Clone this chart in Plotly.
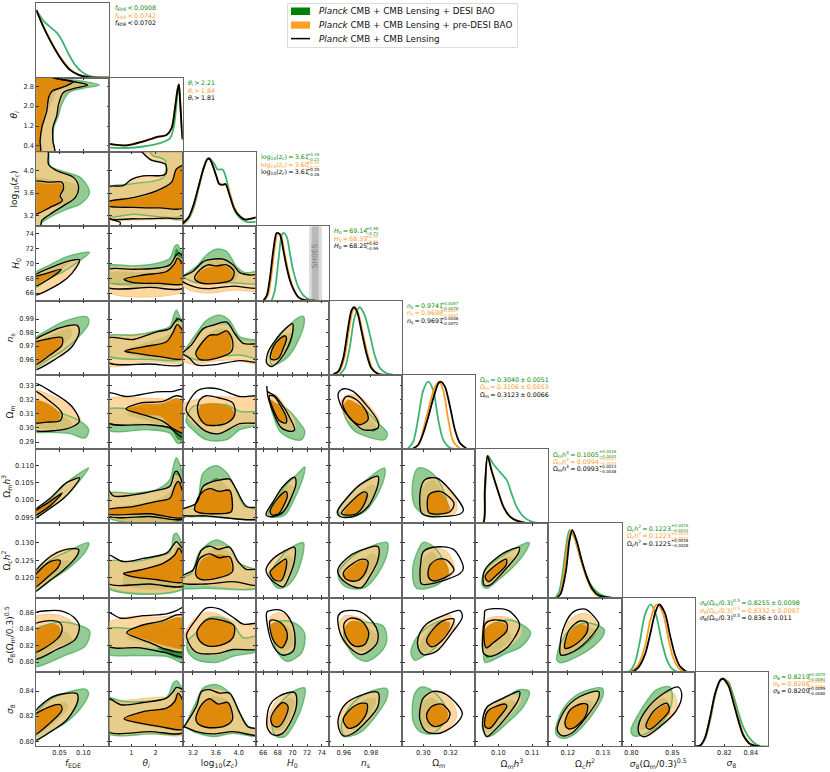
import plotly.graph_objects as go

W, H = 830, 772
names = ["fede", "theta", "logz", "h0", "ns", "om", "omh3", "och2", "s8", "sig8"]
x_titles = ["<i>f</i><sub>EDE</sub>", "<i>θ<sub>i</sub></i>", "log<sub>10</sub>(<i>z<sub>c</sub></i>)", "<i>H</i><sub>0</sub>", "<i>n</i><sub>s</sub>",
            "Ω<sub>m</sub>", "Ω<sub>m</sub><i>h</i><sup>3</sup>", "Ω<sub>c</sub><i>h</i><sup>2</sup>", "<i>σ</i><sub>8</sub>(Ω<sub>m</sub>/0.3)<sup>0.5</sup>", "<i>σ</i><sub>8</sub>"]
x_ranges = [[.001, .155], [.1, 3.115], [3.02, 4.3], [65, 75], [.949, 1.003], [.2846, .338], [.0932, .1148], [.1145, .1354], [.7883, .8773], [.7975, .8531]]
y_ranges = [[0, 1.1], [.16, 3.147], [3.02, 4.32], [65, 75], [.9488, 1.0037], [.285, .3378], [.0932, .1148], [.1143, .1355], [.788, .8775], [.796, .8552]]
density_range = [0, 1.1]
x_ticks = [[.05, .10], [1, 2], [3.2, 3.6, 4.0], [66, 68, 70, 72, 74], [.96, .98], [.30, .32], [.10, .11], [.12, .13], [.80, .85], [.82, .84]]
y_ticks = [[], [.4, 1.2, 2.0, 2.8], [3.2, 3.6, 4.0], [66, 68, 70, 72, 74], [.96, .97, .98, .99], [.29, .30, .31, .32, .33], [.095, .100, .105, .110], [.120, .125, .130], [.80, .82, .84, .86], [.80, .82, .84]]
x_ticktext = [["0.05", "0.10"], ["1", "2"], ["3.2", "3.6", "4.0"], ["66", "68", "70", "72", "74"], ["0.96", "0.98"], ["0.30", "0.32"], ["0.10", "0.11"], ["0.12", "0.13"], ["0.80", "0.85"], ["0.82", "0.84"]]
y_ticktext = [[], ["0.4", "1.2", "2.0", "2.8"], ["3.2", "3.6", "4.0"], ["66", "68", "70", "72", "74"], ["0.96", "0.97", "0.98", "0.99"], ["0.29", "0.30", "0.31", "0.32", "0.33"], ["0.095", "0.100", "0.105", "0.110"], ["0.120", "0.125", "0.130"], ["0.80", "0.82", "0.84", "0.86"], ["0.80", "0.82", "0.84"]]

# ---- 1D marginals (value, density)
fede_g = [(.001,1.0),(.016,.84),(.03,.75),(.044,.665),(.055,.55),(.069,.35),(.083,.185),(.097,.085),(.111,.03),(.129,.005),(.155,0)]
fede_o = [(.001,1.0),(.016,.76),(.03,.56),(.044,.385),(.058,.24),(.0725,.12),(.09,.045),(.108,.012),(.13,0),(.155,0)]
fede_k = [(.001,1.0),(.016,.75),(.03,.55),(.044,.375),(.058,.225),(.0725,.11),(.09,.04),(.108,.01),(.129,0),(.155,0)]
theta_g = [(.11,.063),(.81,.058),(1.49,.08),(2.18,.13),(2.59,.2),(2.75,.37),(2.86,.71),(2.95,1.0),(3.01,.76),(3.09,.28),(3.115,.2)]
theta_o = [(.11,.11),(.81,.095),(1.49,.15),(2.04,.215),(2.45,.25),(2.66,.36),(2.79,.63),(2.9,.92),(2.96,1.0),(3.01,.76),(3.09,.28),(3.115,.2)]
theta_k = [(.11,.12),(.81,.097),(1.49,.155),(2.04,.22),(2.45,.25),(2.66,.35),(2.79,.62),(2.9,.91),(2.96,1.0),(3.01,.76),(3.09,.28),(3.115,.18)]
logz_g = [(3.02,.02),(3.13,.115),(3.21,.265),(3.3,.565),(3.38,.84),(3.45,.99),(3.49,1.0),(3.58,.915),(3.63,.84),(3.72,.84),(3.77,.74),(3.86,.44),(3.94,.215),(4.03,.115),(4.14,.065),(4.3,.065)]
logz_o = [(3.02,.03),(3.13,.13),(3.21,.3),(3.3,.58),(3.38,.84),(3.45,.99),(3.49,1.0),(3.55,.89),(3.61,.74),(3.67,.625),(3.73,.61),(3.78,.62),(3.84,.49),(3.93,.265),(4.0,.17),(4.11,.1),(4.3,.13)]
logz_k = [(3.02,.04),(3.13,.14),(3.21,.315),(3.3,.59),(3.38,.84),(3.45,.99),(3.49,1.0),(3.55,.89),(3.61,.74),(3.66,.625),(3.73,.615),(3.77,.625),(3.83,.49),(3.92,.265),(4.0,.165),(4.11,.1),(4.3,.13)]
h0_g = [(67.17,0),(67.6,.15),(68.1,.6),(68.5,.95),(68.75,1.0),(69.2,.95),(69.66,.7),(70.1,.45),(70.8,.2),(71.5,.075),(72.4,.01),(73.3,0)]
h0_o = [(66.2,0),(66.65,.075),(67.1,.35),(67.55,.75),(68.0,1.0),(68.45,.96),(68.9,.72),(69.35,.47),(69.8,.28),(70.25,.15),(70.9,.04),(71.8,.004),(73.5,0)]
h0_k = [(66.04,0),(66.5,.075),(66.95,.35),(67.4,.75),(67.85,1.0),(68.3,.975),(68.75,.75),(69.2,.5),(69.66,.3),(70.1,.175),(70.8,.05),(71.7,.005),(73,0)]
ns_g = [(.957,.01),(.9607,.1),(.9644,.415),(.968,.86),(.9717,1.0),(.9754,.88),(.979,.61),(.9827,.295),(.9863,.11),(.9912,.025),(.997,0)]
ns_o = [(.9532,.01),(.9569,.06),(.9605,.26),(.9642,.72),(.9666,.955),(.9683,1.0),(.9708,.9),(.9739,.62),(.9776,.3),(.9812,.09),(.986,.012),(.992,0)]
ns_k = [(.9522,.01),(.9559,.05),(.9595,.245),(.9632,.71),(.9656,.955),(.9673,1.0),(.9698,.93),(.9729,.66),(.9766,.32),(.9802,.1),(.985,.015),(.991,0)]
om_g = [(.289,.01),(.2927,.11),(.2963,.455),(.30,.87),(.3037,1.0),(.3073,.87),(.311,.43),(.3146,.137),(.3195,.02),(.325,0)]
om_o = [(.2939,.01),(.2976,.11),(.3012,.38),(.3049,.68),(.3085,.92),(.3117,1.0),(.3146,.87),(.3183,.43),(.322,.11),(.3268,.005)]
om_k = [(.2927,.01),(.2963,.06),(.30,.235),(.3037,.48),(.3073,.75),(.311,.97),(.3127,1.0),(.3159,.92),(.3195,.63),(.3232,.28),(.3268,.09),(.3317,.005)]
omh3_g = [(.0932,0),(.0955,0),(.0961,.49),(.0969,1.0),(.0985,.88),(.1005,.76),(.1025,.64),(.1039,.44),(.1054,.245),(.1074,.1),(.1098,.025),(.1132,0)]
omh3_o = [(.0932,0),(.0955,0),(.096,.49),(.0968,1.0),(.0981,.78),(.0996,.53),(.1016,.24),(.1036,.1),(.1056,.04),(.1085,.005),(.1148,0)]
omh3_k = [(.0932,0),(.0955,0),(.096,.49),(.0968,1.0),(.098,.78),(.0995,.54),(.1015,.245),(.1034,.1),(.1054,.04),(.1083,.005),(.1115,0)]
och2_g = [(.1165,0),(.1175,.08),(.1185,.35),(.1195,.75),(.1205,1.0),(.1218,.9),(.1235,.6),(.125,.37),(.1265,.2),(.128,.1),(.13,.03),(.133,0)]
och2_o = [(.1168,0),(.1178,.06),(.119,.4),(.12,.8),(.121,1.0),(.1222,.85),(.1238,.55),(.1253,.3),(.1268,.13),(.1285,.03),(.132,0)]
och2_k = [(.117,0),(.118,.06),(.1195,.4),(.1205,.85),(.1213,1.0),(.1225,.85),(.124,.55),(.1255,.3),(.127,.13),(.129,.03),(.132,0)]
s8_g = [(.7883,0),(.798,.015),(.8045,.14),(.8105,.455),(.8167,.85),(.8236,1.0),(.83,.85),(.837,.455),(.843,.19),(.849,.055),(.857,0)]
s8_o = [(.79,0),(.80,.01),(.8085,.11),(.8167,.38),(.8228,.75),(.8289,.975),(.832,1.0),(.839,.85),(.845,.5),(.851,.21),(.859,.04),(.867,0)]
s8_k = [(.79,0),(.80,0),(.8085,.065),(.8167,.26),(.8228,.55),(.8289,.87),(.834,1.0),(.841,.87),(.847,.55),(.853,.26),(.859,.09),(.867,.005)]
sig8_g = [(.7975,0),(.8015,.01),(.8053,.11),(.8091,.38),(.8129,.75),(.8167,.975),(.8187,1.0),(.823,.95),(.8268,.75),(.8306,.5),(.8344,.28),(.8395,.11),(.846,.01),(.8531,0)]
sig8_o = [(.7975,0),(.8015,.01),(.8053,.13),(.8091,.42),(.8129,.77),(.817,.975),(.8192,1.0),(.8235,.9),(.8273,.65),(.8311,.38),(.8349,.16),(.84,.035),(.8475,0)]
sig8_k = [(.7975,0),(.8015,.01),(.8053,.13),(.8091,.43),(.8129,.78),(.8167,.975),(.8187,1.0),(.823,.9),(.8268,.65),(.8306,.38),(.8344,.16),(.8395,.035),(.847,0)]

# ---- 2D contours: <x>_<y>_<set><level>; g/o/k = green/orange/black; o=outer, i=inner
fede_theta_go = [(-.01,3.2),(.06,3.08),(.1,3.0),(.134,2.85),(.1,2.72),(.07,2.55),(.055,2.1),(.047,1.6),(.038,1.15),(.036,.6),(.039,.1),(-.01,.1)]
fede_theta_gi = [(-.01,3.2),(.05,3.08),(.09,2.95),(.106,2.85),(.08,2.76),(.045,2.6),(.035,2.2),(.024,1.7),(.015,1.1),(.012,.6),(.012,.1),(-.01,.1)]
fede_theta_oo = [(-.01,3.2),(.052,3.08),(.085,2.97),(.104,2.85),(.085,2.72),(.06,2.55),(.05,2.08),(.045,1.61),(.037,1.15),(.036,.61),(.039,.1),(-.01,.1)]
fede_theta_oi = [(-.01,3.2),(.051,3.08),(.078,2.97),(.058,2.77),(.034,2.6),(.027,2.35),(.02,1.81),(.012,1.15),(.008,.61),(.008,.1),(-.01,.1)]
fede_theta_ko = [(-.01,3.2),(.051,3.08),(.083,2.97),(.109,2.85),(.083,2.72),(.058,2.55),(.048,2.08),(.044,1.61),(.036,1.15),(.036,.61),(.039,.1),(-.01,.1)]
fede_theta_ki = [(-.01,3.2),(.051,3.08),(.078,2.97),(.058,2.77),(.034,2.6),(.027,2.35),(.023,1.81),(.0127,1.15),(.009,.61),(.009,.1),(-.01,.1)]

fede_logz_go = [(-.01,4.35),(.025,4.35),(.03,4.08),(.0655,3.96),(.094,3.87),(.113,3.61),(.094,3.41),(.0655,3.32),(.03,3.18),(.012,3.08),(.007,3.0),(-.01,3.0)]
fede_logz_gi = [(-.01,3.85),(.04,3.82),(.085,3.75),(.088,3.6),(.07,3.45),(.03,3.32),(-.01,3.2)]
fede_logz_oo = [(-.01,4.35),(.024,4.35),(.027,4.1),(.046,3.99),(.082,3.87),(.09,3.7),(.082,3.52),(.058,3.38),(.03,3.23),(.0127,3.12),(.009,3.0),(-.01,3.0)]
fede_logz_oi = [(-.01,3.76),(.03,3.76),(.052,3.76),(.056,3.67),(.049,3.55),(.053,3.47),(.03,3.36),(-.01,3.24)]
fede_logz_ko = [(-.01,4.35),(.0246,4.35),(.0268,4.1),(.0444,3.99),(.08,3.87),(.09,3.7),(.083,3.52),(.0585,3.38),(.03,3.23),(.0127,3.12),(.009,3.0),(-.01,3.0)]
fede_logz_ki = [(-.01,3.79),(.03,3.79),(.055,3.79),(.058,3.67),(.051,3.55),(.056,3.47),(.03,3.35),(-.01,3.22)]

fede_h0_go = [(-.01,68.3),(.03,69.8),(.0655,70.9),(.113,71.47),(.09,70.25),(.058,68.9),(.03,68.0),(-.01,66.5)]
fede_h0_gi = [(-.01,67.9),(.03,69.1),(.0725,70.25),(.044,68.66),(.02,67.6),(-.01,66.8)]
fede_h0_oo = [(-.01,68.1),(.037,69.5),(.0655,70.2),(.092,70.4),(.076,68.7),(.051,67.4),(-.01,65.7)]
fede_h0_oi = [(-.01,67.8),(.023,68.6),(.052,69.1),(.03,68.2),(-.01,66.9)]
fede_h0_ko = [(-.01,68.0),(.037,69.57),(.0655,70.24),(.092,70.47),(.076,68.66),(.051,67.3),(-.01,65.7)]
fede_h0_ki = [(-.01,67.9),(.023,68.66),(.0535,69.2),(.03,68.0),(-.01,66.8)]

fede_ns_go = [(-.01,.973),(.03,.9829),(.0655,.989),(.108,.9915),(.111,.9866),(.09,.9768),(.058,.967),(.03,.961),(-.01,.953)]
fede_ns_gi = [(-.01,.97),(.03,.978),(.0725,.983),(.076,.978),(.05,.9695),(-.01,.956)]
fede_ns_oo = [(-.01,.972),(.03,.98),(.0655,.985),(.0866,.9854),(.0915,.9805),(.076,.9695),(.044,.961),(-.01,.952)]
fede_ns_oi = [(-.01,.971),(.03,.9752),(.053,.976),(.053,.9707),(.03,.9634),(-.01,.955)]
fede_ns_ko = [(-.01,.972),(.03,.9805),(.0655,.9849),(.0866,.9854),(.0915,.9805),(.076,.9695),(.044,.961),(-.01,.952)]
fede_ns_ki = [(-.01,.971),(.03,.9756),(.055,.9763),(.055,.9707),(.03,.9634),(-.01,.955)]

fede_om_go = [(-.01,.319),(.044,.3118),(.094,.3047),(.111,.2988),(.104,.2929),(.0725,.296),(.03,.2969),(-.01,.298)]
fede_om_gi = [(-.01,.317),(.044,.3106),(.076,.3035),(.0655,.2993),(.03,.2988),(-.01,.3023)]
fede_om_oo = [(-.01,.3265),(.0373,.3224),(.0725,.3153),(.0937,.3059),(.0796,.3007),(.044,.2988),(-.01,.3007)]
fede_om_oi = [(-.01,.32),(.03,.3165),(.0515,.3094),(.048,.3059),(-.01,.3047)]
fede_om_ko = [(-.01,.332),(.0373,.3248),(.076,.3153),(.0915,.3047),(.076,.3007),(.044,.2983),(-.01,.2995)]
fede_om_ki = [(-.01,.327),(.03,.3189),(.055,.3106),(.0515,.3054),(.023,.3042),(-.01,.3042)]

fede_omh3_go = [(-.01,.0955),(.03,.1),(.0655,.1051),(.111,.1093),(.0937,.1059),(.0585,.1005),(.03,.0976),(-.01,.0942)]
fede_omh3_gi = [(-.01,.0957),(.03,.0998),(.07,.1035),(.05,.1008),(.03,.0985),(-.01,.095)]
fede_omh3_oo = [(-.01,.096),(.03,.1005),(.0655,.1051),(.092,.1064),(.076,.103),(.0585,.1005),(.03,.0976),(-.01,.0942)]
fede_omh3_oi = [(-.01,.0958),(.03,.0996),(.055,.102),(.03,.0983),(-.01,.095)]
fede_omh3_ko = [(-.01,.096),(.03,.1005),(.0585,.1044),(.0655,.1051),(.092,.1064),(.076,.103),(.0585,.1005),(.03,.0976),(-.01,.0942)]
fede_omh3_ki = [(-.01,.0958),(.03,.0996),(.055,.102),(.03,.0983),(-.01,.095)]

fede_och2_go = [(-.01,.1195),(.03,.125),(.0655,.1274),(.111,.13),(.104,.1274),(.0725,.1231),(.0373,.1198),(-.01,.1155)]
fede_och2_gi = [(-.01,.1185),(.03,.1235),(.06,.125),(.075,.1245),(.05,.1215),(-.01,.117)]
fede_och2_oo = [(-.01,.12),(.03,.1263),(.065,.1283),(.087,.1282),(.08,.1255),(.055,.1222),(.03,.1195),(-.01,.116)]
fede_och2_oi = [(-.01,.1195),(.03,.1246),(.05,.1247),(.047,.1231),(.03,.1208),(-.01,.117)]
fede_och2_ko = [(-.01,.12),(.03,.126),(.0585,.1279),(.09,.1281),(.0875,.1265),(.0585,.1222),(.03,.1193),(-.01,.1155)]
fede_och2_ki = [(-.01,.119),(.03,.1246),(.051,.1249),(.0475,.1231),(.03,.1208),(-.01,.1165)]

fede_s8_go = [(-.01,.835),(.044,.8478),(.083,.8457),(.113,.8376),(.104,.8192),(.0655,.809),(-.01,.795)]
fede_s8_gi = [(-.01,.828),(.03,.8396),(.0655,.8355),(.076,.8253),(.044,.8184),(-.01,.802)]
fede_s8_oo = [(-.01,.852),(.044,.8567),(.0745,.8498),(.0915,.8396),(.0796,.8253),(.044,.8151),(-.01,.8032)]
fede_s8_oi = [(-.01,.835),(.03,.8457),(.048,.8437),(.0515,.8355),(.041,.8253),(-.01,.811)]
fede_s8_ko = [(-.01,.857),(.03,.862),(.0585,.8608),(.08,.8539),(.0915,.8437),(.083,.8273),(.044,.8151),(-.01,.8032)]
fede_s8_ki = [(-.01,.843),(.03,.8498),(.0515,.8469),(.055,.8376),(.044,.8273),(-.01,.811)]

fede_sig8_go = [(-.01,.816),(.03,.8331),(.0655,.8389),(.104,.8416),(.111,.8384),(.097,.8277),(.0655,.8157),(.03,.8077),(-.01,.799)]
fede_sig8_gi = [(-.01,.814),(.03,.8264),(.0585,.8317),(.069,.8277),(.043,.8157),(-.01,.803)]
fede_sig8_oo = [(-.01,.819),(.03,.8344),(.0585,.8381),(.085,.8379),(.086,.8317),(.0655,.8171),(.0373,.8091),(-.01,.8)]
fede_sig8_oi = [(-.01,.818),(.03,.8277),(.05,.8291),(.053,.8251),(.0373,.8171),(-.01,.804)]
fede_sig8_ko = [(-.01,.819),(.03,.8344),(.0585,.8379),(.0866,.8379),(.088,.8317),(.0655,.8171),(.0373,.8091),(-.01,.8)]
fede_sig8_ki = [(-.01,.818),(.03,.8277),(.0515,.8291),(.055,.8251),(.0373,.8171),(-.01,.804)]

theta_logz_go = [(0,3.68),(1.01,3.76),(2.31,3.87),(2.41,4.16),(2.18,4.22),(1.9,4.25),(1.7,4.4),(3.2,4.4),(3.2,3.23),(1.08,3.23),(0,3.2)]
theta_logz_gi = [(.8,3.35),(.8,3.47),(1.08,3.5),(2.04,3.62),(2.66,3.75),(2.86,3.95),(3.2,4.05),(3.2,3.32),(2.18,3.34),(1.08,3.35)]
theta_logz_oo = [(0,3.7),(.67,3.72),(1.01,3.82),(1.49,3.9),(2.31,3.92),(2.41,4.12),(1.77,4.2),(1.4,4.4),(3.2,4.4),(3.2,3.15),(2.45,3.14),(1.08,3.13),(0,3.15)]
theta_logz_oi = [(0,3.46),(1.08,3.5),(2.04,3.62),(2.66,3.77),(2.86,4.0),(3.2,4.08),(3.2,3.36),(2.18,3.35),(1.08,3.36),(0,3.4)]
theta_logz_ko = [(0,3.7),(.67,3.73),(1.01,3.84),(1.49,3.9),(2.41,3.93),(2.41,4.1),(1.77,4.19),(1.36,4.4),(3.2,4.4),(3.2,3.18),(2.45,3.16),(1.08,3.15),(0,3.17)]
theta_logz_ki = [(0,3.44),(1.08,3.52),(2.04,3.64),(2.66,3.79),(2.86,4.02),(3.2,4.08),(3.2,3.35),(2.18,3.34),(1.08,3.35),(0,3.38)]
theta_logz_ko2 = [(0,3.15),(.32,3.12),(.55,3.08),(.45,3.0),(0,3.0)]

theta_h0_go = [(0,69.66),(1.08,69.66),(2.04,70.0),(2.59,70.7),(2.79,72.3),(2.9,72.5),(3.0,72),(3.2,70.5),(3.2,67.4),(1.77,67.4),(0,67.5)]
theta_h0_gi = [(0,68.66),(2.04,68.9),(2.66,70),(2.86,72),(3,71.4),(3.2,70.3),(3.2,67.5),(0,67.45)]
theta_h0_oo = [(0,69.1),(2.04,69.34),(2.59,69.8),(2.86,70.9),(3.0,70.7),(3.2,70),(3.2,66.4),(0,66.2)]
theta_h0_oi = [(.72,67.85),(1.49,68.43),(2.45,68.9),(2.79,70),(2.9,70.6),(3.2,69.4),(3.2,67.3),(2.18,67.3),(1.08,67.4)]
theta_h0_ko = [(0,69.1),(1.08,69.2),(2.04,69.34),(2.59,69.8),(2.86,71.15),(2.97,71.4),(3.2,70.4),(3.2,66.76),(1.77,66.76),(0,66.85)]
theta_h0_ki = [(.7,67.85),(1.49,68.43),(2.45,68.9),(2.79,70),(2.9,70.7),(3.2,69.4),(3.2,67.3),(2.18,67.3),(1.08,67.4)]

theta_ns_go = [(0,.9773),(1.08,.978),(2.04,.9812),(2.59,.9844),(2.75,.9929),(2.86,.9966),(3.0,.9917),(3.2,.985),(3.2,.961),(1.77,.9602),(0,.9634)]
theta_ns_gi = [(.7,.9664),(2.04,.975),(2.66,.9805),(2.86,.9915),(3.0,.987),(3.2,.98),(3.2,.961),(1.08,.963)]
theta_ns_oo = [(0,.975),(2.04,.9795),(2.59,.9822),(2.86,.9878),(3.2,.985),(3.2,.9585),(1.77,.9585),(0,.9561)]
theta_ns_oi = [(.75,.9663),(1.49,.9695),(2.45,.9732),(2.73,.98),(2.89,.985),(3.2,.978),(3.2,.961),(2.18,.9622),(1.22,.9646)]
theta_ns_ko = [(0,.9756),(1.08,.9749),(2.04,.9805),(2.59,.9829),(2.79,.9878),(2.93,.9902),(3.2,.985),(3.2,.9573),(1.77,.9568),(0,.9585)]
theta_ns_ki = [(.73,.9663),(1.49,.9695),(2.45,.9732),(2.73,.9805),(2.89,.9859),(3.2,.978),(3.2,.961),(2.18,.9622),(1.22,.9646)]

theta_om_go = [(0,.313),(1.08,.3135),(2.04,.3142),(2.86,.3165),(3.2,.3165),(3.2,.2929),(2.93,.2889),(2.59,.2964),(1.77,.2988),(0,.2988)]
theta_om_gi = [(.8,.31),(2.0,.3135),(3.2,.3125),(3.2,.2917),(2.93,.2917),(2.66,.2988),(1.77,.3047)]
theta_om_oo = [(0,.3201),(1.36,.3213),(2.86,.3201),(3.2,.32),(3.2,.2964),(2.59,.3012),(1.36,.3035),(0,.3047)]
theta_om_oi = [(.81,.313),(1.36,.3165),(2.31,.3177),(2.86,.3213),(3.2,.3185),(3.2,.2964),(2.73,.3),(2.18,.3083),(1.36,.3094)]
theta_om_ko = [(0,.3248),(.81,.3224),(2.04,.3257),(2.73,.326),(3.07,.3276),(3.2,.327),(3.2,.2929),(2.93,.2952),(2.59,.30),(1.77,.3023),(0,.3042)]
theta_om_ki = [(.78,.3135),(1.36,.3177),(2.31,.3189),(2.86,.3229),(3.2,.3205),(3.2,.2964),(2.79,.2988),(2.31,.3047),(1.36,.3101)]

theta_omh3_go = [(0,.1018),(1.08,.102),(2.04,.103),(2.59,.1059),(2.75,.1103),(2.86,.1122),(2.97,.1108),(3.2,.103),(3.2,.0947),(0,.0952)]
theta_omh3_gi = [(0,.0971),(2.04,.1),(2.66,.103),(2.86,.1079),(3.0,.1068),(3.2,.1),(3.2,.094),(0,.0952)]
theta_omh3_oo = [(0,.1018),(1.08,.1015),(2.04,.1028),(2.59,.1038),(2.86,.1073),(3.2,.103),(3.2,.0944),(0,.0952)]
theta_omh3_oi = [(0,.0971),(1.08,.0981),(2.04,.0996),(2.59,.1005),(2.79,.104),(2.93,.1054),(3.2,.1),(3.2,.095),(1.77,.096),(0,.096)]
theta_omh3_ko = [(0,.1035),(.26,.1012),(1.08,.1015),(2.04,.1028),(2.59,.104),(2.79,.1081),(2.89,.1083),(3.2,.102),(3.2,.0947),(1.77,.0952),(0,.0957)]
theta_omh3_ki = [(0,.0971),(1.08,.0981),(2.04,.0996),(2.59,.1005),(2.79,.104),(2.93,.1054),(3.2,.1),(3.2,.095),(1.77,.096),(0,.096)]

theta_och2_go = [(0,.1246),(1.08,.1246),(2.04,.126),(2.59,.1274),(2.75,.1322),(2.86,.1327),(3.0,.1312),(3.2,.127),(3.2,.1172),(0,.1172)]
theta_och2_gi = [(.7,.121),(1.36,.1222),(2.66,.126),(2.86,.1293),(3.0,.1278),(3.2,.125),(3.2,.1179),(.7,.1179)]
theta_och2_oo = [(0,.1246),(1.08,.1243),(2.04,.126),(2.59,.1272),(2.86,.1298),(3.2,.127),(3.2,.1175),(0,.1179)]
theta_och2_oi = [(.7,.1212),(1.36,.1222),(2.31,.1241),(2.79,.1265),(2.96,.128),(3.2,.125),(3.2,.1189),(2,.1195),(1.03,.1203)]
theta_och2_ko = [(0,.1265),(.67,.1246),(1.49,.1255),(2.45,.127),(2.73,.1293),(2.86,.1303),(3.0,.1293),(3.2,.127),(3.2,.1179),(1.77,.1182),(0,.1186)]
theta_och2_ki = [(.67,.1212),(1.36,.1222),(2.31,.1241),(2.79,.1265),(2.96,.1284),(3.2,.125),(3.2,.1189),(2,.1195),(1.03,.1203)]

theta_s8_go = [(0,.8396),(1.08,.8404),(2.04,.8457),(2.86,.8518),(3.2,.8518),(3.2,.7996),(2.45,.8069),(1.08,.8078),(0,.8102)]
theta_s8_gi = [(.81,.8294),(2,.84),(3,.8478),(3.2,.8437),(3.2,.8049),(2.86,.8049),(1.77,.8212)]
theta_s8_oo = [(0,.8457),(1.08,.8551),(2.04,.8539),(2.86,.8559),(3.2,.8539),(3.2,.8131),(2.45,.8171),(1.36,.8184),(0,.82)]
theta_s8_oi = [(.88,.8355),(1.36,.8429),(2.31,.8478),(2.86,.8539),(3.2,.8518),(3.2,.8171),(2.45,.8192),(1.77,.8253)]
theta_s8_ko = [(0,.86),(.57,.8527),(1.49,.8559),(2.45,.858),(2.86,.862),(3.2,.866),(3.2,.8069),(2.45,.811),(1.36,.8171),(0,.82)]
theta_s8_ki = [(.81,.8355),(1.36,.8437),(2.31,.8498),(2.86,.8567),(3.2,.8559),(3.2,.8131),(2.45,.8151),(1.77,.8233)]

theta_sig8_go = [(0,.8344),(.67,.8317),(1.49,.8317),(2.45,.8349),(2.73,.8464),(2.86,.8483),(3.0,.8451),(3.2,.836),(3.2,.8077),(1.77,.8059),(0,.8069)]
theta_sig8_gi = [(.7,.8171),(1.49,.8224),(2.59,.8277),(2.86,.8411),(3.0,.8357),(3.2,.8277),(3.2,.8099),(2.18,.8104),(1.36,.8131)]
theta_sig8_oo = [(0,.8299),(1.08,.8331),(2.04,.8351),(2.59,.8357),(2.86,.8411),(3.2,.838),(3.2,.8059),(1.77,.8064),(0,.8077)]
theta_sig8_oi = [(.75,.8179),(1.49,.8237),(2.45,.8264),(2.79,.8317),(2.93,.838),(3.2,.8277),(3.2,.8099),(2.18,.8117),(1.36,.8144)]
theta_sig8_ko = [(0,.8344),(.57,.8291),(1.49,.8309),(2.45,.8344),(2.73,.8397),(2.86,.8429),(3.2,.8397),(3.2,.8077),(1.77,.8077),(0,.8083)]
theta_sig8_ki = [(.7,.8179),(1.49,.8237),(2.45,.8264),(2.79,.8317),(2.93,.8384),(3.2,.8277),(3.2,.8099),(2.18,.8117),(1.36,.8144)]

logz_h0_go = [(3.0,68.2),(3.26,69.57),(3.44,71.15),(3.61,71.9),(3.79,71.6),(3.96,69.57),(4.11,68.75),(4.4,68.9),(4.4,67.4),(3.84,67.4),(3.49,67.3),(3.26,67.4),(3.0,68.2)]
logz_h0_gi = [(3.26,68.0),(3.38,69.6),(3.61,70.7),(3.84,70.0),(3.99,68.4),(3.9,67.5),(3.55,67.3),(3.29,67.4)]
logz_h0_oo = [(3.0,68.0),(3.26,69.1),(3.44,70.1),(3.67,70.5),(3.9,69.66),(4.05,68.75),(4.4,68.43),(4.4,66.4),(3.9,66.4),(3.49,66.0),(3.14,66.4),(3.0,67.2)]
logz_h0_oi = [(3.26,68),(3.35,69.0),(3.55,69.57),(3.79,69.57),(3.9,68.66),(3.84,67.6),(3.61,67.3),(3.32,67.3)]
logz_h0_ko = [(3.0,68.1),(3.2,68.9),(3.38,70.24),(3.55,70.56),(3.73,70.56),(3.9,69.8),(4.02,68.75),(4.2,68.43),(4.4,68.43),(4.4,66.76),(3.9,66.94),(3.49,66.6),(3.26,66.76),(3.0,67.7)]
logz_h0_ki = [(3.23,68),(3.32,69.1),(3.46,69.8),(3.61,69.66),(3.79,69.8),(3.92,68.9),(3.87,67.75),(3.61,67.3),(3.32,67.4)]

logz_ns_go = [(3.0,.9635),(3.26,.9793),(3.44,.989),(3.67,.9929),(3.84,.989),(4.02,.9768),(4.4,.973),(4.4,.961),(4.02,.9634),(3.61,.9622),(3.26,.9598),(3.0,.9645)]
logz_ns_gi = [(3.26,.9671),(3.44,.978),(3.67,.983),(3.84,.981),(3.93,.972),(3.9,.9659),(3.61,.9634),(3.32,.961)]
logz_ns_oo = [(3.0,.9645),(3.26,.9768),(3.44,.9829),(3.67,.9854),(3.84,.9842),(3.99,.9744),(4.4,.9707),(4.4,.9573),(3.9,.9598),(3.49,.9585),(3.26,.9565),(3.0,.9595)]
logz_ns_oi = [(3.26,.9646),(3.38,.9744),(3.55,.978),(3.79,.9805),(3.87,.9732),(3.84,.9659),(3.61,.961),(3.32,.9598)]
logz_ns_ko = [(3.0,.9645),(3.17,.9707),(3.38,.9829),(3.55,.9854),(3.79,.9878),(3.93,.9793),(4.08,.972),(4.4,.9707),(4.4,.9585),(4.02,.9593),(3.55,.9561),(3.26,.9561),(3.14,.961),(3.0,.9645)]
logz_ns_ki = [(3.25,.9646),(3.35,.972),(3.49,.978),(3.64,.9785),(3.79,.9812),(3.89,.9744),(3.87,.9659),(3.61,.961),(3.32,.9602)]

logz_om_go = [(3.08,.3047),(3.2,.3153),(3.43,.3165),(3.79,.3165),(4.02,.3118),(4.4,.3106),(4.4,.3035),(4.02,.2988),(3.79,.2917),(3.43,.2917),(3.23,.2976)]
logz_om_gi = [(3.29,.3047),(3.35,.313),(3.55,.3153),(3.79,.3135),(3.87,.3071),(3.73,.3012),(3.49,.3012),(3.35,.3035)]
logz_om_oo = [(3.0,.3165),(3.26,.3201),(3.55,.3224),(3.9,.3218),(4.4,.32),(4.4,.3035),(4.02,.3023),(3.66,.296),(3.43,.2976),(3.2,.3035),(3.05,.3106)]
logz_om_oi = [(3.29,.3118),(3.35,.3165),(3.49,.3177),(3.66,.3173),(3.87,.3142),(3.93,.3083),(3.73,.3035),(3.46,.3023),(3.32,.3059)]
logz_om_ko = [(3.08,.313),(3.26,.326),(3.43,.3283),(3.66,.3276),(4.02,.3224),(4.4,.322),(4.4,.3047),(4.02,.3031),(3.66,.296),(3.43,.2976),(3.2,.3059)]
logz_om_ki = [(3.28,.313),(3.32,.32),(3.43,.3229),(3.66,.3213),(3.9,.3177),(3.93,.3094),(3.79,.3035),(3.43,.3023),(3.32,.3071)]

logz_omh3_go = [(3.0,.0971),(3.26,.0991),(3.38,.1079),(3.61,.11),(3.79,.1079),(3.93,.104),(4.11,.0981),(4.4,.0971),(4.4,.0947),(3.43,.0952),(3.0,.0955)]
logz_omh3_gi = [(3.26,.0971),(3.35,.102),(3.61,.1064),(3.79,.104),(3.89,.0991),(3.87,.0962),(3.55,.0957),(3.29,.096)]
logz_omh3_oo = [(3.0,.0971),(3.26,.0991),(3.38,.104),(3.61,.1058),(3.84,.1058),(3.96,.103),(4.14,.0981),(4.4,.0976),(4.4,.0947),(3.43,.0954),(3.0,.0957)]
logz_omh3_oi = [(3.23,.0971),(3.32,.1015),(3.49,.103),(3.66,.1025),(3.84,.103),(3.89,.0991),(3.87,.0966),(3.55,.096),(3.29,.0964)]
logz_omh3_ko = [(3.0,.0971),(3.26,.0991),(3.38,.104),(3.55,.1054),(3.7,.1059),(3.84,.1061),(3.96,.103),(4.14,.0981),(4.4,.0976),(4.4,.0947),(3.43,.0954),(3.0,.0957)]
logz_omh3_ki = [(3.23,.0971),(3.32,.1015),(3.49,.1033),(3.66,.1025),(3.84,.1028),(3.89,.0991),(3.87,.0966),(3.55,.096),(3.29,.0964)]

logz_och2_go = [(3.0,.1198),(3.17,.1212),(3.32,.1274),(3.61,.1308),(3.84,.1287),(4.02,.1241),(4.4,.1212),(4.4,.1174),(3.43,.117),(3.0,.1172)]
logz_och2_gi = [(3.26,.1208),(3.35,.1255),(3.61,.1284),(3.84,.127),(3.9,.1222),(3.61,.1203),(3.32,.1196)]
logz_och2_oo = [(3.0,.1203),(3.23,.1227),(3.35,.1274),(3.61,.1289),(3.84,.1284),(3.99,.1241),(4.4,.1217),(4.4,.1176),(3.43,.1179),(3.0,.1184)]
logz_och2_oi = [(3.26,.1208),(3.35,.125),(3.52,.1265),(3.81,.126),(3.87,.1217),(3.61,.1198),(3.32,.1196)]
logz_och2_ko = [(3.0,.1203),(3.2,.1222),(3.35,.1279),(3.49,.129),(3.64,.1281),(3.84,.1287),(3.99,.1246),(4.13,.1224),(4.4,.1222),(4.4,.1179),(3.9,.1189),(3.43,.1182),(3.0,.1186)]
logz_och2_ki = [(3.25,.1208),(3.32,.1255),(3.49,.1268),(3.66,.1257),(3.84,.126),(3.89,.1217),(3.61,.1198),(3.32,.1196)]

logz_s8_go = [(3.11,.8253),(3.26,.8355),(3.43,.8518),(3.66,.8539),(3.9,.8457),(4.08,.8294),(4.4,.8314),(4.4,.8151),(3.9,.8069),(3.61,.7996),(3.26,.8029),(3.11,.8131)]
logz_s8_gi = [(3.31,.8294),(3.37,.8437),(3.55,.8518),(3.79,.8457),(3.87,.8355),(3.73,.8212),(3.46,.8192),(3.32,.8233)]
logz_s8_oo = [(3.05,.8335),(3.26,.8539),(3.49,.8601),(3.9,.8498),(4.1,.8437),(4.4,.8437),(4.4,.8192),(3.9,.8151),(3.61,.809),(3.26,.8118),(3.08,.8233)]
logz_s8_oi = [(3.28,.8355),(3.38,.8478),(3.55,.8518),(3.79,.8498),(3.93,.8396),(3.87,.8273),(3.66,.8192),(3.43,.8212),(3.32,.8253)]
logz_s8_ko = [(3.09,.8335),(3.26,.8518),(3.43,.8649),(3.66,.8641),(3.9,.8539),(4.08,.8457),(4.4,.8457),(4.4,.8171),(3.9,.8151),(3.61,.8102),(3.26,.8118),(3.11,.8253)]
logz_s8_ki = [(3.27,.8355),(3.35,.8457),(3.47,.8518),(3.73,.8498),(3.92,.8437),(3.9,.8294),(3.73,.8212),(3.47,.8192),(3.32,.8253)]

logz_sig8_go = [(3.0,.808),(3.26,.8317),(3.38,.8424),(3.61,.8451),(3.84,.8384),(4.02,.8224),(4.17,.8117),(4.4,.8085),(4.4,.8037),(3.9,.8064),(3.55,.8037),(3.26,.8069),(3.0,.812)]
logz_sig8_gi = [(3.26,.8184),(3.35,.8277),(3.55,.8357),(3.79,.8331),(3.89,.8197),(3.73,.8117),(3.43,.8104),(3.29,.8131)]
logz_sig8_oo = [(3.0,.8095),(3.29,.8304),(3.4,.8397),(3.61,.8411),(3.84,.8371),(4.02,.8224),(4.17,.8117),(4.4,.809),(4.4,.8051),(3.9,.8069),(3.55,.8059),(3.26,.8077),(3.0,.812)]
logz_sig8_oi = [(3.25,.8184),(3.35,.8277),(3.49,.833),(3.64,.829),(3.81,.8304),(3.87,.8171),(3.73,.8117),(3.43,.8112),(3.29,.8144)]
logz_sig8_ko = [(3.0,.8095),(3.26,.8277),(3.35,.8397),(3.49,.8411),(3.66,.8384),(3.84,.8384),(4.02,.8224),(4.16,.8117),(4.4,.809),(4.4,.8045),(3.9,.8077),(3.55,.8059),(3.26,.8077),(3.0,.812)]
logz_sig8_ki = [(3.25,.8184),(3.35,.8291),(3.49,.8339),(3.64,.8296),(3.81,.8309),(3.89,.8171),(3.73,.8117),(3.43,.8112),(3.28,.8144)]

h0_ns_go = [(66.95,.9598),(67.4,.971),(68.75,.9805),(70.57,.9902),(71.5,.992),(71.6,.9866),(70.6,.972),(69.4,.9622),(68.1,.9573),(67.2,.9561)]
h0_ns_gi = [(67.2,.961),(67.85,.9707),(69.2,.9793),(70,.9793),(69.66,.9707),(68.75,.9634),(67.85,.9602)]
h0_ns_oo = [(66.6,.9585),(66.95,.9671),(68.1,.978),(69.2,.9837),(70.1,.9866),(70,.9805),(69.2,.9671),(68.1,.9585),(66.95,.9553)]
h0_ns_oi = [(67.2,.961),(67.5,.9695),(68.4,.9756),(69.1,.9776),(69.1,.9744),(68.6,.9671),(67.95,.961),(67.4,.9598)]
h0_ns_ko = [(66.5,.9573),(66.7,.9659),(67.85,.9756),(69.2,.9837),(70,.9866),(70.1,.9829),(69.4,.9695),(68.3,.9598),(67.2,.9549)]
h0_ns_ki = [(67,.961),(67.4,.9695),(68.3,.9756),(69,.9776),(69.2,.9756),(68.75,.9683),(68.1,.961),(67.4,.9598)]

h0_om_go = [(67.05,.3177),(68.1,.3165),(69.4,.313),(71,.3035),(71.7,.2976),(71.25,.2917),(69.66,.2929),(68.3,.2976),(67.5,.3071)]
h0_om_gi = [(67.3,.3165),(68.1,.3153),(69.2,.3094),(70.1,.2988),(69.4,.2976),(68.3,.3023),(67.6,.3083)]
h0_om_oo = [(66.85,.3236),(67.85,.3229),(69,.3153),(70.3,.3047),(70.3,.2988),(69.66,.2976),(68.55,.3007),(67.4,.3106)]
h0_om_oi = [(67.05,.3201),(67.75,.3177),(68.55,.313),(69.2,.3059),(69,.3041),(68.2,.3054),(67.5,.3118)]
h0_om_ko = [(66.5,.3295),(66.6,.326),(67.6,.3229),(68.75,.3153),(69.66,.3071),(70.3,.2988),(69.9,.2976),(68.55,.2999),(67.6,.3083),(66.7,.3213)]
h0_om_ki = [(66.85,.3229),(67.5,.3224),(68.3,.3165),(69.2,.3071),(69.1,.3035),(68.2,.3054),(67.4,.313)]

h0_omh3_go = [(66.7,.0962),(67.6,.0991),(69,.104),(70.6,.1074),(71.7,.1096),(71.5,.1069),(70.3,.1005),(69,.0957),(67.85,.095),(66.95,.0952)]
h0_omh3_gi = [(67.05,.0962),(68.1,.1005),(69.4,.1044),(70.1,.104),(69.66,.0991),(68.55,.0957),(67.4,.0952)]
h0_omh3_oo = [(66.5,.0962),(67.5,.1001),(68.75,.104),(70.3,.1064),(70.5,.1044),(69.66,.1),(68.55,.0962),(67.2,.0952)]
h0_omh3_oi = [(67,.0966),(68,.1),(69,.1023),(69.2,.1005),(68.55,.0971),(67.4,.0957)]
h0_omh3_ko = [(66.4,.096),(67.4,.0996),(68.75,.104),(70.3,.1066),(70.5,.1049),(69.9,.101),(68.75,.0966),(67.4,.0952),(66.5,.0954)]
h0_omh3_ki = [(66.95,.0966),(67.85,.1001),(69.1,.1025),(69.3,.101),(68.75,.0981),(68.1,.096),(67.2,.0957)]

h0_och2_go = [(66.95,.1212),(68.1,.125),(69.66,.1284),(71.5,.13),(71.5,.1274),(70.6,.1212),(69.4,.1179),(68.1,.117),(67.2,.1189)]
h0_och2_gi = [(67.2,.1208),(68.1,.1236),(69.4,.1265),(70.1,.1255),(69.4,.1208),(68.5,.1184),(67.6,.1189)]
h0_och2_oo = [(66.7,.1217),(67.6,.126),(68.98,.1277),(70.3,.1284),(70.3,.125),(69.66,.1203),(68.75,.1176),(67.4,.1189)]
h0_och2_oi = [(67,.1212),(67.85,.1236),(68.98,.125),(69.2,.1231),(68.55,.1198),(67.6,.1193)]
h0_och2_ko = [(66.4,.1222),(67.15,.125),(68.75,.1274),(70.3,.1287),(70.3,.125),(69.66,.1208),(68.75,.1174),(67.85,.1182),(66.95,.1198)]
h0_och2_ki = [(66.95,.1217),(67.85,.1236),(69.1,.1253),(69.2,.1236),(68.5,.1193),(67.6,.1193),(67.05,.1208)]

h0_s8_go = [(67.4,.8457),(68.98,.8498),(70.57,.8457),(71.7,.8335),(71.25,.811),(69.4,.8008),(68.55,.8049),(67.6,.8192)]
h0_s8_gi = [(67.3,.8437),(68.75,.8457),(69.9,.8376),(70.1,.8212),(69,.8131),(68.1,.8171),(67.5,.8294)]
h0_s8_oo = [(66.95,.8539),(68.1,.8592),(69.2,.8559),(70.1,.8396),(70.3,.8192),(69.2,.811),(68.1,.8151),(67.2,.8294)]
h0_s8_oi = [(67.05,.8457),(68.1,.8478),(69.1,.8396),(69.4,.8294),(68.55,.8171),(67.6,.8233),(67.2,.8335)]
h0_s8_ko = [(66.5,.86),(66.95,.862),(68.55,.862),(69.66,.8518),(70.3,.8355),(70.1,.8131),(68.75,.8082),(67.85,.8131),(66.95,.8294)]
h0_s8_ki = [(66.95,.8498),(67.85,.8498),(68.98,.8416),(69.3,.8294),(68.55,.8171),(67.6,.8233),(67.05,.8355)]

h0_sig8_go = [(67.2,.8144),(67.85,.8264),(69.2,.8357),(70.57,.8411),(71.7,.8424),(71.5,.8317),(70.3,.8144),(68.98,.8037),(67.85,.8037),(67.3,.8091)]
h0_sig8_gi = [(67.4,.8144),(68.1,.8251),(69.66,.8344),(70.3,.8331),(69.66,.8184),(68.55,.8091),(67.6,.8091)]
h0_sig8_oo = [(66.6,.8171),(67.2,.8264),(68.3,.8357),(70.1,.8384),(70.5,.8277),(69.66,.8144),(68.55,.8069),(67.4,.8051),(66.7,.8104)]
h0_sig8_oi = [(67.2,.8171),(67.75,.8251),(68.75,.8304),(69.3,.8272),(68.85,.8184),(68.1,.8123),(67.4,.8131)]
h0_sig8_ko = [(66.5,.8171),(66.95,.8291),(68.1,.8357),(70.3,.8389),(70.57,.8291),(69.66,.8144),(68.55,.8059),(67.4,.8051),(66.6,.8104)]
h0_sig8_ki = [(67.05,.8171),(67.6,.8251),(68.75,.8309),(69.4,.8277),(68.98,.8184),(68.1,.8117),(67.4,.8123)]

ns_om_go = [(.96,.3118),(.9656,.3165),(.9741,.3142),(.9851,.3035),(.992,.2964),(.99,.2917),(.9766,.2941),(.9668,.2988)]
ns_om_gi = [(.962,.3106),(.9668,.3153),(.9741,.3118),(.9839,.3012),(.9827,.2976),(.9741,.3),(.9656,.3035)]
ns_om_oo = [(.9583,.3201),(.9644,.3236),(.9717,.3224),(.9802,.3142),(.9863,.3047),(.9851,.30),(.9741,.2988),(.9644,.3047),(.959,.3118)]
ns_om_oi = [(.9595,.3153),(.9632,.3201),(.9693,.3177),(.9766,.3118),(.9778,.3054),(.9717,.3023),(.9639,.3071)]
ns_om_ko = [(.9559,.3248),(.96,.3279),(.9668,.326),(.9754,.3177),(.9851,.3047),(.9851,.30),(.9741,.2988),(.9644,.3071),(.9576,.3165)]
ns_om_ki = [(.959,.3177),(.962,.3224),(.9693,.3201),(.9766,.3118),(.9778,.3059),(.9717,.3023),(.9644,.3071)]

ns_omh3_go = [(.9559,.0966),(.9644,.1015),(.9766,.1059),(.99,.1093),(.99,.1069),(.9839,.101),(.9754,.0966),(.9644,.095)]
ns_omh3_gi = [(.9595,.0966),(.9693,.1015),(.9815,.1044),(.9839,.1034),(.9766,.0981),(.9668,.0957)]
ns_omh3_oo = [(.9559,.0971),(.9632,.101),(.9729,.1044),(.9851,.1064),(.9851,.1038),(.9778,.0981),(.9668,.0954),(.957,.0954)]
ns_omh3_oi = [(.9598,.0962),(.9656,.0991),(.9741,.102),(.9766,.1015),(.9749,.0986),(.9688,.096),(.9607,.0957)]
ns_omh3_ko = [(.9551,.0966),(.962,.1005),(.9717,.1044),(.9851,.1069),(.9851,.1044),(.9778,.0981),(.9668,.0952),(.957,.0952)]
ns_omh3_ki = [(.9583,.0962),(.9644,.0991),(.9741,.1023),(.977,.102),(.9754,.0991),(.9693,.096),(.9607,.0957)]

ns_och2_go = [(.9559,.1212),(.9644,.1255),(.9766,.1284),(.992,.13),(.992,.127),(.9851,.1212),(.9754,.1172),(.9644,.117),(.9583,.1184)]
ns_och2_gi = [(.9607,.1203),(.9693,.1236),(.9815,.127),(.9851,.125),(.979,.1212),(.9717,.1189),(.9644,.1189)]
ns_och2_oo = [(.9559,.1217),(.9632,.1255),(.9729,.1277),(.9851,.1287),(.9851,.1246),(.979,.1198),(.9729,.1174),(.9632,.1179)]
ns_och2_oi = [(.96,.1208),(.9668,.1236),(.9741,.125),(.977,.1241),(.9754,.1212),(.9693,.1191),(.9625,.1195)]
ns_och2_ko = [(.9554,.1222),(.962,.1255),(.9717,.1277),(.9851,.1289),(.9851,.125),(.979,.1203),(.9729,.1172),(.9644,.1179),(.957,.1203)]
ns_och2_ki = [(.9595,.1212),(.9668,.1241),(.9741,.1253),(.9778,.1246),(.9754,.1212),(.9693,.1191),(.962,.1195)]

ns_s8_go = [(.96,.8355),(.9668,.8457),(.9766,.8478),(.9888,.8437),(.9917,.8294),(.9888,.8151),(.9766,.8008),(.9668,.809)]
ns_s8_gi = [(.962,.8314),(.9693,.8437),(.9778,.8416),(.985,.8294),(.9815,.8171),(.9717,.8131),(.9644,.8233)]
ns_s8_oo = [(.9566,.8478),(.9607,.8559),(.9705,.8539),(.9802,.8457),(.9858,.8294),(.9834,.8192),(.9729,.809),(.9632,.8171),(.9576,.8314)]
ns_s8_oi = [(.9607,.8416),(.9656,.8498),(.9729,.8478),(.9778,.8355),(.9754,.8219),(.968,.82),(.962,.8294)]
ns_s8_ko = [(.9559,.8559),(.96,.8612),(.9717,.8608),(.9815,.8478),(.9851,.8355),(.9839,.8212),(.9729,.809),(.9644,.8171),(.9571,.8355)]
ns_s8_ki = [(.96,.8457),(.9644,.8527),(.9729,.8498),(.9783,.8355),(.9754,.8212),(.968,.8192),(.962,.8294)]

ns_sig8_go = [(.9583,.8144),(.9644,.8277),(.9766,.8384),(.9917,.8419),(.9917,.8344),(.9851,.8224),(.9729,.8077),(.9607,.8037),(.9583,.8091)]
ns_sig8_gi = [(.962,.8144),(.9668,.8237),(.9778,.8344),(.9839,.8331),(.9778,.8197),(.9668,.8091)]
ns_sig8_oo = [(.9566,.8184),(.962,.8291),(.9717,.8357),(.9851,.8379),(.9851,.8264),(.9778,.8157),(.9668,.8064),(.9595,.8051)]
ns_sig8_oi = [(.9602,.8171),(.9642,.8237),(.9705,.8291),(.9766,.8291),(.9761,.8224),(.9705,.8131),(.9632,.8109)]
ns_sig8_ko = [(.9559,.8184),(.9607,.8291),(.9705,.8357),(.9851,.8389),(.9851,.8277),(.9778,.8171),(.9668,.8064),(.9595,.8043),(.9559,.8117)]
ns_sig8_ki = [(.9595,.8171),(.9632,.8237),(.9705,.8296),(.977,.8299),(.9766,.8224),(.9705,.8131),(.9632,.8104)]

om_omh3_go = [(.2922,.1049),(.2963,.1093),(.3049,.1083),(.3134,.104),(.3171,.0971),(.3049,.0952),(.294,.0981)]
om_omh3_gi = [(.2976,.0991),(.30,.104),(.3073,.1059),(.3146,.102),(.3171,.0966),(.3049,.0957),(.2988,.0962)]
om_omh3_oo = [(.298,.103),(.3012,.1059),(.3098,.1064),(.3183,.1035),(.3244,.0991),(.3232,.0962),(.3049,.0952),(.2988,.0962)]
om_omh3_oi = [(.3037,.0966),(.3041,.1015),(.3117,.1023),(.3171,.1),(.3195,.0966),(.3061,.096)]
om_omh3_ko = [(.298,.103),(.3012,.1059),(.3098,.1064),(.3195,.103),(.3293,.0971),(.3273,.096),(.3049,.0952),(.2988,.0962)]
om_omh3_ki = [(.3037,.0966),(.3041,.1015),(.3122,.1025),(.3224,.0991),(.3195,.0966),(.3061,.096)]

om_och2_go = [(.2922,.1222),(.2963,.1279),(.30,.1301),(.3073,.1289),(.3146,.125),(.3176,.1212),(.3098,.1179),(.2951,.117)]
om_och2_gi = [(.2976,.1203),(.3012,.126),(.3073,.1274),(.3134,.1231),(.3146,.1198),(.3024,.1181)]
om_och2_oo = [(.298,.1236),(.30,.127),(.3073,.1284),(.3171,.1275),(.3224,.1236),(.322,.1212),(.3073,.1184),(.2988,.1182)]
om_och2_oi = [(.3037,.1203),(.3049,.1236),(.311,.1251),(.3159,.1246),(.3188,.1212),(.3122,.1196),(.3061,.1191)]
om_och2_ko = [(.298,.1236),(.30,.1274),(.3073,.1287),(.322,.1281),(.3293,.1227),(.3268,.1212),(.3073,.1184),(.2988,.1182),(.2976,.1212)]
om_och2_ki = [(.3037,.1203),(.3049,.1236),(.311,.1253),(.3171,.125),(.3224,.1222),(.3171,.1203),(.3073,.1191)]

om_s8_go = [(.291,.811),(.2951,.8294),(.3049,.8437),(.3141,.8498),(.3171,.8437),(.3098,.8192),(.30,.8069),(.2939,.802)]
om_s8_gi = [(.2976,.8192),(.3024,.8355),(.311,.8478),(.3141,.8396),(.3073,.8212),(.30,.811)]
om_s8_oo = [(.2963,.8294),(.3024,.8437),(.3122,.8539),(.3195,.8567),(.3232,.8457),(.3195,.8335),(.3098,.8151),(.30,.809),(.2973,.8171)]
om_s8_oi = [(.3024,.8253),(.3073,.8376),(.3134,.8478),(.3195,.8478),(.3183,.8376),(.3122,.8253),(.3061,.8192)]
om_s8_ko = [(.2963,.8294),(.3024,.8457),(.3146,.8559),(.3268,.862),(.3285,.8539),(.322,.8376),(.3098,.8131),(.30,.809),(.2963,.8171)]
om_s8_ki = [(.3024,.8253),(.3073,.8396),(.3146,.8498),(.3224,.8518),(.3212,.8437),(.3134,.8253),(.3061,.8184)]

om_sig8_go = [(.292,.8264),(.294,.8384),(.2988,.8432),(.3073,.8397),(.3159,.8277),(.3146,.8144),(.3061,.8059),(.2976,.8077),(.2927,.8157)]
om_sig8_gi = [(.2976,.8184),(.30,.8317),(.3073,.8344),(.3134,.8251),(.3122,.8144),(.3049,.8104),(.30,.8117)]
om_sig8_oo = [(.2976,.8251),(.3012,.8344),(.3085,.8397),(.3171,.8371),(.3244,.8224),(.322,.8144),(.3122,.8069),(.3024,.8077),(.2976,.8171)]
om_sig8_oi = [(.3024,.8211),(.3068,.8277),(.3122,.8291),(.3183,.8224),(.3163,.8157),(.3085,.8117),(.3037,.8157)]
om_sig8_ko = [(.2976,.8251),(.30,.8344),(.3073,.8397),(.3171,.8371),(.3285,.8224),(.3244,.8144),(.3122,.8064),(.3024,.8077),(.2976,.8171)]
om_sig8_ki = [(.3024,.8211),(.3061,.8277),(.3134,.8296),(.3195,.8224),(.3171,.8157),(.3085,.8117),(.3037,.8157)]

omh3_och2_go = [(.0952,.1198),(.0966,.1227),(.1025,.127),(.1091,.13),(.1083,.1279),(.1044,.1231),(.1005,.1198),(.0966,.117),(.0952,.1179)]
omh3_och2_gi = [(.0956,.1198),(.0979,.1227),(.1034,.126),(.1044,.125),(.1005,.1208),(.0969,.1184)]
omh3_och2_oo = [(.0956,.1208),(.0971,.1236),(.1015,.1268),(.1064,.1284),(.1059,.1265),(.1015,.1212),(.0975,.1179),(.0958,.1179)]
omh3_och2_oi = [(.0961,.1203),(.0977,.1222),(.102,.125),(.102,.1233),(.0995,.1208),(.0971,.1189)]
omh3_och2_ko = [(.0956,.1212),(.0966,.1231),(.1015,.127),(.1062,.1286),(.1059,.127),(.1015,.1217),(.0975,.1179),(.0958,.1179)]
omh3_och2_ki = [(.0961,.1203),(.0975,.1222),(.1023,.1253),(.1023,.1236),(.0995,.1208),(.0971,.1189)]

omh3_s8_go = [(.0956,.8192),(.0961,.8376),(.0995,.8478),(.1044,.8498),(.1095,.8355),(.1069,.8192),(.1015,.809),(.0961,.7996)]
omh3_s8_gi = [(.0959,.8151),(.0971,.8335),(.1015,.8416),(.1039,.8294),(.1005,.8151),(.0966,.8049)]
omh3_s8_oo = [(.0959,.8478),(.098,.8539),(.1025,.8539),(.1062,.8457),(.1066,.8335),(.1025,.8171),(.0975,.8069),(.0956,.811)]
omh3_s8_oi = [(.0961,.8396),(.099,.8478),(.102,.8457),(.1025,.8355),(.099,.8253),(.0964,.8171)]
omh3_s8_ko = [(.0959,.856),(.0961,.862),(.1025,.8629),(.1059,.8498),(.1062,.8416),(.1025,.8171),(.0975,.8069),(.0956,.811)]
omh3_s8_ki = [(.0961,.8457),(.0985,.8506),(.1023,.8478),(.1025,.8376),(.0985,.8233),(.0964,.8171)]

omh3_sig8_go = [(.0954,.8171),(.0968,.8277),(.1025,.8357),(.1062,.8411),(.1091,.8397),(.1074,.8277),(.1025,.8144),(.0971,.8037),(.0954,.8091)]
omh3_sig8_gi = [(.0959,.8117),(.098,.8251),(.1039,.8331),(.1054,.8291),(.1005,.8144),(.0971,.8077)]
omh3_sig8_oo = [(.0956,.8197),(.0971,.8277),(.1015,.8344),(.1059,.8365),(.1066,.8331),(.103,.8197),(.0985,.8077),(.0966,.8037),(.0956,.8104)]
omh3_sig8_oi = [(.0961,.8117),(.0971,.8237),(.1017,.8291),(.1023,.8264),(.10,.8184),(.0975,.8104)]
omh3_sig8_ko = [(.0956,.821),(.0968,.8277),(.1015,.8344),(.1062,.8397),(.1059,.8331),(.1025,.8197),(.0985,.8077),(.0966,.8037),(.0956,.8091)]
omh3_sig8_ki = [(.0961,.8117),(.0968,.8237),(.102,.8296),(.1025,.8277),(.10,.8184),(.0975,.8104)]

och2_s8_go = [(.1169,.8024),(.1178,.8208),(.1207,.8392),(.1254,.8473),(.1304,.8392),(.1297,.829),(.1245,.8106),(.1178,.7992)]
och2_s8_gi = [(.1178,.8086),(.1202,.8269),(.1254,.8412),(.1283,.8371),(.1245,.8188),(.1197,.8086)]
och2_s8_oo = [(.1183,.8208),(.1197,.8453),(.1221,.8555),(.1254,.8584),(.1288,.8453),(.1283,.8371),(.125,.8229),(.1207,.8106),(.1183,.8086)]
och2_s8_oi = [(.1192,.8167),(.1207,.8371),(.1235,.8453),(.1254,.8433),(.1252,.8331),(.1221,.8208)]
och2_s8_ko = [(.1178,.8208),(.1192,.8453),(.1216,.8604),(.125,.8637),(.1288,.8473),(.1288,.8433),(.1254,.8249),(.1207,.8106),(.118,.8086)]
och2_s8_ki = [(.1192,.8167),(.1205,.8392),(.1235,.8494),(.1256,.8473),(.1254,.8351),(.1221,.8208)]

och2_sig8_go = [(.1165,.8091),(.1188,.8264),(.1235,.8384),(.1297,.8424),(.1302,.8384),(.1273,.8224),(.1216,.8051),(.1183,.8024),(.1168,.8051)]
och2_sig8_gi = [(.1188,.8131),(.1211,.8264),(.1254,.8331),(.1273,.8304),(.1235,.8157),(.1202,.8091)]
och2_sig8_oo = [(.117,.8104),(.1192,.8251),(.1235,.8351),(.1288,.8389),(.1288,.8331),(.1254,.8184),(.1211,.8064),(.1183,.8051)]
och2_sig8_oi = [(.1192,.8144),(.1209,.8251),(.124,.8291),(.1254,.8284),(.1247,.8197),(.1216,.8104),(.1199,.8104)]
och2_sig8_ko = [(.117,.8091),(.1192,.8251),(.1235,.8357),(.1288,.8397),(.1288,.8344),(.1254,.8197),(.1211,.8064),(.1183,.8045)]
och2_sig8_ki = [(.1192,.8144),(.1207,.8251),(.124,.8299),(.1256,.8291),(.125,.8197),(.1216,.8104),(.1199,.8104)]

s8_sig8_go = [(.7996,.8091),(.8106,.8237),(.8309,.8411),(.8472,.8432),(.8492,.8304),(.837,.8144),(.8146,.8051),(.8024,.8045)]
s8_sig8_gi = [(.8085,.8131),(.8228,.8277),(.8391,.8344),(.8451,.8304),(.8329,.8171),(.8126,.8091)]
s8_sig8_oo = [(.8106,.8131),(.8187,.8251),(.837,.8363),(.8512,.8384),(.8553,.8251),(.8391,.8131),(.8187,.8037),(.8106,.8051)]
s8_sig8_oi = [(.8187,.8131),(.8289,.8237),(.8431,.8291),(.8472,.8224),(.837,.8171),(.8236,.8104)]
s8_sig8_ko = [(.8085,.8117),(.8167,.8237),(.837,.8371),(.8573,.8432),(.8614,.8371),(.8553,.8251),(.835,.8117),(.8167,.8037),(.8106,.8051)]
s8_sig8_ki = [(.8179,.8117),(.8268,.8237),(.8431,.8304),(.8463,.8251),(.837,.8171),(.8228,.8096)]

# ---- stat labels
TS = "\u2009"
stat_fede = [f"<i>f</i><sub>EDE</sub>{TS}&lt;{TS}0.0908", f"<i>f</i><sub>EDE</sub>{TS}&lt;{TS}0.0742", f"<i>f</i><sub>EDE</sub>{TS}&lt;{TS}0.0702"]
stat_theta = [f"<i>θ<sub>i</sub></i>{TS}&gt;{TS}2.21", f"<i>θ<sub>i</sub></i>{TS}&gt;{TS}1.84", f"<i>θ<sub>i</sub></i>{TS}&gt;{TS}1.81"]
stat_logz = ["3.61", "3.60", "3.61"]; err_logz = [("+0.19", "−0.21"), ("+0.20", "−0.21"), ("+0.20", "−0.26")]
stat_h0 = ["69.14", "68.39", "68.25"]; err_h0 = [("+0.58", "−0.71"), ("+0.52", "−0.82"), ("+0.62", "−0.99")]
stat_ns = ["0.9741", "0.9698", "0.9691"]; err_ns = [("+0.0057", "−0.0078"), ("+0.0047", "−0.0067"), ("+0.0048", "−0.0072")]
stat_om = [f"0.3040{TS}±{TS}0.0051", f"0.3106{TS}±{TS}0.0053", f"0.3123{TS}±{TS}0.0066"]
stat_omh3 = ["0.1005", "0.0994", "0.0993"]; err_omh3 = [("+0.0016", "−0.0043"), ("+0.0011", "−0.0033"), ("+0.0013", "−0.0038")]
stat_och2 = ["0.1223", "0.1223", "0.1225"]; err_och2 = [("+0.0019", "−0.0033"), ("+0.0015", "−0.0032"), ("+0.0016", "−0.0028")]
stat_s8 = [f"0.8255{TS}±{TS}0.0098", f"0.8332{TS}±{TS}0.0097", f"0.836{TS}±{TS}0.011"]
stat_sig8 = ["0.8219", "0.8206", "0.8209"]; err_sig8 = [("+0.0070", "−0.0091"), ("+0.0059", "−0.0082"), ("+0.0059", "−0.0080")]
legend_labels = ["<i>Planck</i> CMB + CMB Lensing + DESI BAO", "<i>Planck</i> CMB + CMB Lensing + pre-DESI BAO", "<i>Planck</i> CMB + CMB Lensing"]
shoes_outer = [72.27, 74.05]
shoes_inner = [72.64, 73.6]

FONT = "DejaVu Sans"
GREEN_TXT, ORANGE_TXT = "#098a09", "#ff9a1f"
TXT = [GREEN_TXT, ORANGE_TXT, "#000000"]
L0, T0, PW, PH = 36.3, 3.3, 73.17, 74.3


def px(x):
    return x / W


def py(y):
    return 1 - y / H


fig = go.Figure()
layout = dict(width=W, height=H, margin=dict(l=0, r=0, t=0, b=0), paper_bgcolor="white", plot_bgcolor="white",
              showlegend=False, font=dict(family=FONT, size=7, color="#111"), hovermode=False)
axis_index = {}
k = 0
for r in range(10):
    for c in range(r + 1):
        k += 1
        axis_index[(r, c)] = k
        diag = r == c
        xa = dict(domain=[px(L0 + c * PW), px(L0 + (c + 1) * PW)], range=x_ranges[c], anchor=f"y{k}", showgrid=False, zeroline=False,
                  showline=True, linecolor="#666", linewidth=1, mirror="ticks" if not diag else True,
                  ticks="inside" if (not diag or r == 9) else "", ticklen=2.5, tickwidth=.8, tickcolor="#333",
                  tickmode="array", tickvals=x_ticks[c], ticktext=x_ticktext[c], showticklabels=r == 9, tickfont=dict(size=6.6, color="#222"))
        if r == 9:
            xa["title"] = dict(text=x_titles[c], font=dict(size=9, color="#222"), standoff=3)
        ya = dict(domain=[py(T0 + (r + 1) * PH), py(T0 + r * PH)], range=density_range if diag else y_ranges[r], anchor=f"x{k}", showgrid=False, zeroline=False,
                  showline=True, linecolor="#666", linewidth=1, mirror="ticks" if not diag else True,
                  ticks="inside" if not diag else "", ticklen=2.5, tickwidth=.8, tickcolor="#333",
                  tickmode="array", tickvals=y_ticks[r] if not diag else [], ticktext=y_ticktext[r] if not diag else [],
                  showticklabels=(c == 0 and not diag), tickfont=dict(size=6.6, color="#222"))
        if c == 0 and r > 0:
            ya["title"] = dict(text=x_titles[r], font=dict(size=9, color="#222"), standoff=4)
        layout[f"xaxis{k}"] = xa
        layout[f"yaxis{k}"] = ya


def trace(pts, k, fill=None, color="rgba(0,0,0,0)", width=0.0):
    pts = list(pts) + [pts[0]]
    fig.add_trace(go.Scatter(x=[p[0] for p in pts], y=[p[1] for p in pts], mode="lines", xaxis=f"x{k}", yaxis=f"y{k}",
                             fill="toself" if fill else "none", fillcolor=fill, hoverinfo="skip",
                             line=dict(color=color, width=width, shape="spline", smoothing=.9)))


G_OUT, G_IN = "rgba(0,128,0,0.42)", "rgba(10,125,20,0.72)"
O_OUT, O_IN = "rgba(255,204,134,0.79)", "rgba(224,132,0,0.9)"
G_LINE, O_LINE, K_LINE = "rgba(85,178,100,0.85)", "rgb(255,196,130)", "#000000"

for r in range(1, 10):
    for c in range(r):
        k = axis_index[(r, c)]
        base = f"{names[c]}_{names[r]}_"
        get = lambda s: globals()[base + s]
        trace(get("go"), k, fill=G_OUT)
        trace(get("gi"), k, fill=G_IN)
        trace(get("oo"), k, fill=O_OUT, color=O_LINE, width=1.0)
        trace(get("go"), k, color=G_LINE, width=1.4)
        trace(get("oi"), k, fill=O_IN)
        trace(get("ko"), k, color=K_LINE, width=1.35)
        trace(get("ki"), k, color=K_LINE, width=1.35)
        if base + "ko2" in globals():
            trace(get("ko2"), k, color=K_LINE, width=1.35)

for i, n in enumerate(names):
    k = axis_index[(i, i)]
    for suffix, col in (("g", "#3cb371"), ("o", "#ff9a1f"), ("k", "#000000")):
        pts = globals()[f"{n}_{suffix}"]
        fig.add_trace(go.Scatter(x=[p[0] for p in pts], y=[p[1] for p in pts], mode="lines", xaxis=f"x{k}", yaxis=f"y{k}", hoverinfo="skip",
                                 line=dict(color=col, width=1.8, shape="spline", smoothing=.8)))

annotations, shapes = [], []


def text(x, y, s, size=6.3, color="#000", **kw):
    annotations.append(dict(x=px(x), y=py(y), xref="paper", yref="paper", text=s, showarrow=False, xanchor=kw.pop("xanchor", "left"),
                            xshift=-1, yanchor="middle", font=dict(size=size, color=color, family=FONT), **kw))


label_defs = [
    (114, [8, 15.7, 23.3], None, stat_fede, None, 0),
    (187, [82.7, 90.7, 97.7], None, stat_theta, None, 0),
    (260, [156.7, 164.7, 172], f"log<sub>10</sub>(<i>z<sub>c</sub></i>){TS}={TS}", stat_logz, err_logz, 46),
    (333.3, [231, 238.7, 246], f"<i>H</i><sub>0</sub>{TS}={TS}", stat_h0, err_h0, 31.7),
    (406, [305.7, 313.3, 320.7], f"<i>n</i><sub>s</sub>{TS}={TS}", stat_ns, err_ns, 34),
    (479.3, [380, 387.3, 395], f"Ω<sub>m</sub>{TS}={TS}", stat_om, None, 0),
    (552.3, [454, 461.3, 468.7], f"Ω<sub>m</sub><i>h</i><sup>3</sup>{TS}={TS}", stat_omh3, err_omh3, 46),
    (625.7, [528.3, 535.7, 543], f"Ω<sub>c</sub><i>h</i><sup>2</sup>{TS}={TS}", stat_och2, err_och2, 44),
    (699, [602.7, 610, 617.3], f"<i>σ</i><sub>8</sub>(Ω<sub>m</sub>/0.3)<sup>0.5</sup>{TS}={TS}", stat_s8, None, 0),
    (772, [676.7, 684, 691.3], f"<i>σ</i><sub>8</sub>{TS}={TS}", stat_sig8, err_sig8, 35),
]
for x0, ys, prefix, vals, errs, off in label_defs:
    for i in range(3):
        text(x0, ys[i], (prefix or "") + vals[i], color=TXT[i])
        if errs:
            text(x0 + off, ys[i] - 2.4, errs[i][0], size=4.0, color=TXT[i])
            text(x0 + off, ys[i] + 2.4, errs[i][1], size=4.0, color=TXT[i])

# legend
shapes.append(dict(type="rect", xref="paper", yref="paper", x0=px(287.5), x1=px(517.5), y0=py(3.5), y1=py(47.5),
                   fillcolor="rgba(255,255,255,.8)", line=dict(color="#dcdcdc", width=1), layer="above"))
shapes.append(dict(type="rect", xref="paper", yref="paper", x0=px(291), x1=px(310), y0=py(7.5), y1=py(15), fillcolor="green", line=dict(width=0), layer="above"))
shapes.append(dict(type="rect", xref="paper", yref="paper", x0=px(291), x1=px(310), y0=py(21.5), y1=py(28.7), fillcolor="#ff9f27", line=dict(width=0), layer="above"))
shapes.append(dict(type="line", xref="paper", yref="paper", x0=px(291), x1=px(310), y0=py(38.6), y1=py(38.6), line=dict(color="black", width=1.5), layer="above"))
for lab, y in zip(legend_labels, [11.3, 25, 38.7]):
    text(317.5, y, lab, size=8.8, color="#111")

# SH0ES band
kh = axis_index[(3, 3)]
shapes.append(dict(type="rect", xref=f"x{kh}", yref=f"y{kh}", x0=shoes_outer[0], x1=shoes_outer[1], y0=0, y1=1.1, fillcolor="#dcdcdc", line=dict(width=0), layer="below"))
shapes.append(dict(type="rect", xref=f"x{kh}", yref=f"y{kh}", x0=shoes_inner[0], x1=shoes_inner[1], y0=0, y1=1.1, fillcolor="#b9b9b9", line=dict(width=0), layer="below"))
annotations.append(dict(x=sum(shoes_inner) / 2, y=.66, xref=f"x{kh}", yref=f"y{kh}", text="SH0ES", textangle=-90, showarrow=False,
                        font=dict(size=7.4, color="#808080", family=FONT)))

layout["annotations"] = annotations
layout["shapes"] = shapes
fig.update_layout(**layout)
fig.write_html("out.html", config={"displayModeBar": False}, post_script="document.body.style.margin='0';document.body.style.overflow='hidden';")
